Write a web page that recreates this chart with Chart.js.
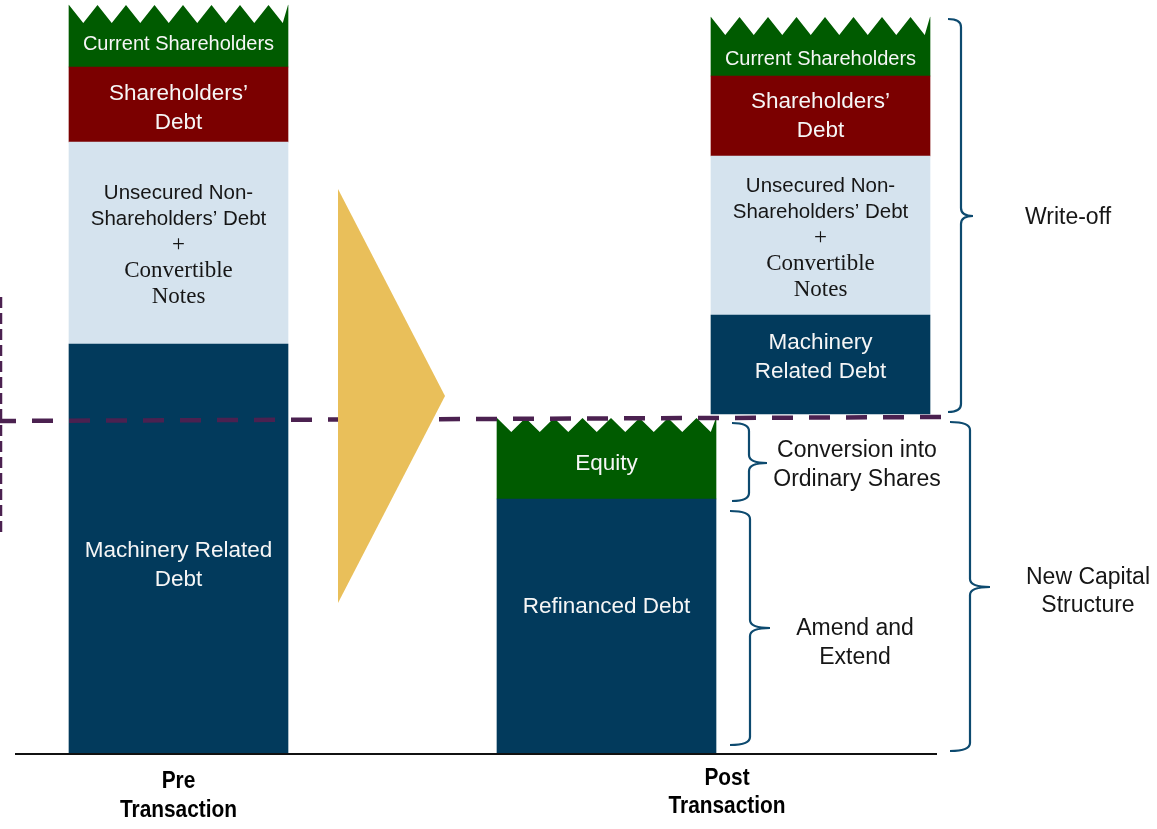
<!DOCTYPE html>
<html>
<head>
<meta charset="utf-8">
<script src="https://cdn.jsdelivr.net/npm/chart.js@4.4.0/dist/chart.umd.min.js"></script>
<style>
  html, body { margin: 0; padding: 0; background: #ffffff; }
  canvas { display: block; }
</style>
</head>
<body>
<canvas id="chart" width="1157" height="829"></canvas>
<script>
// --- data -------------------------------------------------------------
const columnNames = ["Pre Transaction", "Post Transaction"];
// bar centres on the horizontal value scale (0..1157): pre, post new structure, post written off
const barSlots = [178.5, 606.5, 820.5];

// segment heights from bottom to top (0 = baseline)
const preLabels = ["Machinery Related Debt", "Unsecured Non-Shareholders' Debt + Convertible Notes", "Shareholders' Debt", "Current Shareholders"];
const preValues = [410, 202, 75, 62];

const writeOffBase = 340;
const writeOffValues = [99, 159, 80, 59];

const newLabels = ["Refinanced Debt", "Equity"];
const newValues = [255, 81];

const segmentColours = ["#023a5c", "#d5e3ee", "#7b0000", "#005b00"];
const newColours = ["#023a5c", "#005b00"];

// text shown inside each segment (pre, post)
const preText = [
    [["Machinery Related", "Debt"], ["Machinery", "Related Debt"]],
    [["Unsecured Non-", "Shareholders\u2019 Debt", "+", "Convertible", "Notes"], ["Unsecured Non-", "Shareholders\u2019 Debt", "+", "Convertible", "Notes"]],
    [["Shareholders\u2019", "Debt"], ["Shareholders\u2019", "Debt"]],
    [["Current Shareholders"], ["Current Shareholders"]]
];
const preTextShift = [[14, -9], [0, 0.5], [2, -2], [-3, 1.5]];
const newText = [["Refinanced Debt"], ["Equity"]];
const newTextShift = [-22, -4];

// --- helpers ----------------------------------------------------------
function stackRanges(values, base) {
    let acc = base;
    return values.map(v => {
        const r = [acc, acc + v];
        acc += v;
        return r;
    });
}

const preRanges = stackRanges(preValues, 0);
const writeOffRanges = stackRanges(writeOffValues, writeOffBase);
const newRanges = stackRanges(newValues, 0);

const SANS = "'Liberation Sans', Arial, sans-serif";
const SERIF = "'Liberation Serif', 'Times New Roman', serif";

const datasets = [];
preLabels.forEach((name, i) => {
    datasets.push({
        label: name,
        data: [
            { x: barSlots[0], y: preRanges[i] },
            { x: barSlots[2], y: writeOffRanges[i] }
        ],
        backgroundColor: segmentColours[i],
        texts: preText[i],
        shifts: preTextShift[i],
        zigzag: name === "Current Shareholders" ? 18 : 0
    });
});
newLabels.forEach((name, i) => {
    datasets.push({
        label: name,
        data: [{ x: barSlots[1], y: newRanges[i] }],
        backgroundColor: newColours[i],
        texts: [newText[i]],
        shifts: [newTextShift[i]],
        zigzag: name === "Equity" ? 14 : 0
    });
});
datasets.forEach(ds => {
    ds.grouped = false;
    ds.barThickness = 219;
    ds.borderWidth = 0;
});

// annotations in value units
const dashedLevel = { x0: 0, y0: 333, x1: 948, y1: 337 };
const sideMarker = { x: 1, y0: 222, y1: 457 };
const arrowShape = [[338, 565], [445, 358], [338, 151]];
const baseline = [15, 937];
const braces = [
    { end: 948, spine: 961, tip: 973, top: 735, mid: 538, bottom: 342, text: ["Write-off"], textX: 1068, dy: 0 },
    { end: 950, spine: 970, tip: 990, top: 332, mid: 167, bottom: 3, text: ["New Capital", "Structure"], textX: 1088, dy: -2.5 },
    { end: 732, spine: 749, tip: 767, top: 331, mid: 291, bottom: 253, text: ["Conversion into", "Ordinary Shares"], textX: 857, dy: 0 },
    { end: 730, spine: 750, tip: 770, top: 243, mid: 126, bottom: 9, text: ["Amend and", "Extend"], textX: 855, dy: -13 }
];
const columnLabelX = [178.5, 727];
const columnLabelY = [-40, -36.5];

function drawText(ctx, str, x, y, font, colour, sx) {
    ctx.save();
    ctx.font = font;
    ctx.fillStyle = colour;
    ctx.textAlign = "center";
    ctx.textBaseline = "middle";
    ctx.translate(x, y + 2);
    ctx.scale(sx || 1, 1);
    ctx.fillText(str, 0, 0);
    ctx.restore();
}

function drawBrace(ctx, xs, ys, b) {
    const e = xs(b.end), s = xs(b.spine), t = xs(b.tip);
    const top = ys(b.top), mid = ys(b.mid), bot = ys(b.bottom);
    const r = 8;
    ctx.beginPath();
    ctx.moveTo(e, top);
    ctx.quadraticCurveTo(s, top, s, top + r);
    ctx.lineTo(s, mid - r);
    ctx.quadraticCurveTo(s, mid, t, mid);
    ctx.quadraticCurveTo(s, mid, s, mid + r);
    ctx.lineTo(s, bot - r);
    ctx.quadraticCurveTo(s, bot, e, bot);
    ctx.stroke();
}

const diagramPlugin = {
    id: "diagram",
    afterDatasetsDraw(chart) {
        const ctx = chart.ctx;
        const xScale = chart.scales.x, yScale = chart.scales.y;
        const xs = v => xScale.getPixelForValue(v);
        const ys = v => yScale.getPixelForValue(v);

        // saw-tooth tops and segment captions
        chart.data.datasets.forEach((ds, di) => {
            chart.getDatasetMeta(di).data.forEach((bar, j) => {
                const left = bar.x - bar.width / 2, right = bar.x + bar.width / 2;
                const top = bar.y, bottom = bar.base;
                let textTop = top;
                if (ds.zigzag) {
                    const tooth = 28.5;
                    ctx.save();
                    ctx.fillStyle = "#ffffff";
                    ctx.beginPath();
                    ctx.moveTo(left - 1, top - 1);
                    for (let px = left; px < right; px += tooth) {
                        ctx.lineTo(px, top);
                        ctx.lineTo(Math.min(px + tooth / 2, right), top + ds.zigzag * Math.min(1, (right - px) / (tooth / 2)));
                    }
                    ctx.lineTo(right, top);
                    ctx.lineTo(right + 1, top - 1);
                    ctx.closePath();
                    ctx.fill();
                    ctx.restore();
                    textTop = top + ds.zigzag;
                }
                const lines = ds.texts[j];
                const serifCaption = lines.length === 5;
                const lh = serifCaption ? 25.8 : 29;
                const centre = (textTop + bottom) / 2 + ds.shifts[j];
                lines.forEach((ln, k) => {
                    const y = centre + (k - (lines.length - 1) / 2) * lh;
                    if (serifCaption) {
                        const font = k < 2 ? "20.5px " + SANS : "23px " + SERIF;
                        drawText(ctx, ln, bar.x, y, font, "#161616");
                    } else if (ds.label === "Current Shareholders") {
                        drawText(ctx, ln, bar.x, y, "20px " + SANS, "#f6f6f6");
                    } else {
                        drawText(ctx, ln, bar.x, y, "22.5px " + SANS, "#f6f6f6");
                    }
                });
            });
        });

        // dashed threshold line
        ctx.save();
        ctx.strokeStyle = "#4b2150";
        ctx.lineWidth = 4.5;
        ctx.setLineDash([21, 16]);
        ctx.lineDashOffset = 5;
        ctx.beginPath();
        ctx.moveTo(xs(dashedLevel.x0), ys(dashedLevel.y0));
        ctx.lineTo(xs(dashedLevel.x1), ys(dashedLevel.y1));
        ctx.stroke();
        ctx.lineWidth = 2.5;
        ctx.setLineDash([11, 5]);
        ctx.lineDashOffset = 0;
        ctx.beginPath();
        ctx.moveTo(xs(sideMarker.x), ys(sideMarker.y1));
        ctx.lineTo(xs(sideMarker.x), ys(sideMarker.y0));
        ctx.stroke();
        ctx.restore();

        // transition arrow
        ctx.save();
        ctx.fillStyle = "#e9bf5a";
        ctx.beginPath();
        arrowShape.forEach((p, i) => {
            if (i === 0) ctx.moveTo(xs(p[0]), ys(p[1]));
            else ctx.lineTo(xs(p[0]), ys(p[1]));
        });
        ctx.closePath();
        ctx.fill();
        ctx.restore();

        // baseline
        ctx.save();
        ctx.strokeStyle = "#111111";
        ctx.lineWidth = 2;
        ctx.beginPath();
        ctx.moveTo(xs(baseline[0]), ys(0));
        ctx.lineTo(xs(baseline[1]), ys(0));
        ctx.stroke();
        ctx.restore();

        // braces with their captions
        ctx.save();
        ctx.strokeStyle = "#0d4a6f";
        ctx.lineWidth = 2.2;
        braces.forEach(b => {
            drawBrace(ctx, xs, ys, b);
            const c = ys(b.mid) - b.dy;
            b.text.forEach((ln, k) => {
                drawText(ctx, ln, xs(b.textX), c + (k - (b.text.length - 1) / 2) * 28.5, "23px " + SANS, "#161616");
            });
        });
        ctx.restore();

        // column captions
        columnNames.forEach((name, i) => {
            const words = name.split(" ");
            const c = ys(columnLabelY[i]);
            words.forEach((w, k) => {
                drawText(ctx, w, xs(columnLabelX[i]), c + (k - (words.length - 1) / 2) * 28.5, "bold 24px " + SANS, "#000000", 0.87);
            });
        });
    }
};

new Chart(document.getElementById("chart"), {
    type: "bar",
    data: { datasets: datasets },
    options: {
        responsive: false,
        animation: false,
        layout: { padding: { left: 0, right: 0, top: 0, bottom: 75 } },
        plugins: { legend: { display: false }, tooltip: { enabled: false } },
        scales: {
            x: { type: "linear", min: 0, max: 1157, offset: false, display: false },
            y: { min: 0, max: 754, display: false }
        }
    },
    plugins: [diagramPlugin]
});
</script>
</body>
</html>
